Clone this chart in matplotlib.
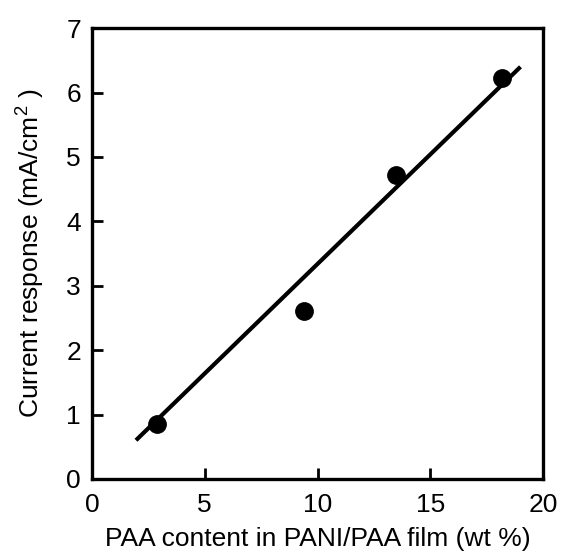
import matplotlib
matplotlib.use("Agg")
import matplotlib.pyplot as plt

plt.rcParams['font.family'] = ['Liberation Sans', 'DejaVu Sans']
plt.rcParams['mathtext.fontset'] = 'custom'
plt.rcParams['mathtext.rm'] = 'Liberation Sans'
plt.rcParams['mathtext.it'] = 'Liberation Sans:italic'

paa_content = [2.9, 9.4, 13.5, 18.2]
current_response = [0.86, 2.61, 4.72, 6.22]
fit_x = [1.95, 19.0]
fit_y = [0.60, 6.40]
x_ticks = [0, 5, 10, 15, 20]
y_ticks = [0, 1, 2, 3, 4, 5, 6, 7]

fig = plt.figure(figsize=(5.61, 5.53), dpi=100)
ax = fig.add_axes([0.164, 0.134, 0.804, 0.815])

ax.plot(fit_x, fit_y, color='black', lw=3.0, solid_capstyle='butt', zorder=2)
ax.plot(paa_content, current_response, 'o', color='black', ms=12.5, zorder=3)

ax.set_xlim(0, 20)
ax.set_ylim(0, 7)
ax.set_xticks(x_ticks)
ax.set_yticks(y_ticks)
ax.tick_params(direction='in', length=8, width=2.0, labelsize=19)
ax.tick_params(axis='x', pad=10)
ax.tick_params(axis='y', pad=8)
for s in ax.spines.values():
    s.set_linewidth(2.4)

ax.set_xlabel('PAA content in PANI/PAA film (wt %)', fontsize=19, labelpad=7)
ax.set_ylabel('Current response (mA/cm$^{2}$ )', fontsize=19, labelpad=14)

fig.savefig('out.png', dpi=100)
